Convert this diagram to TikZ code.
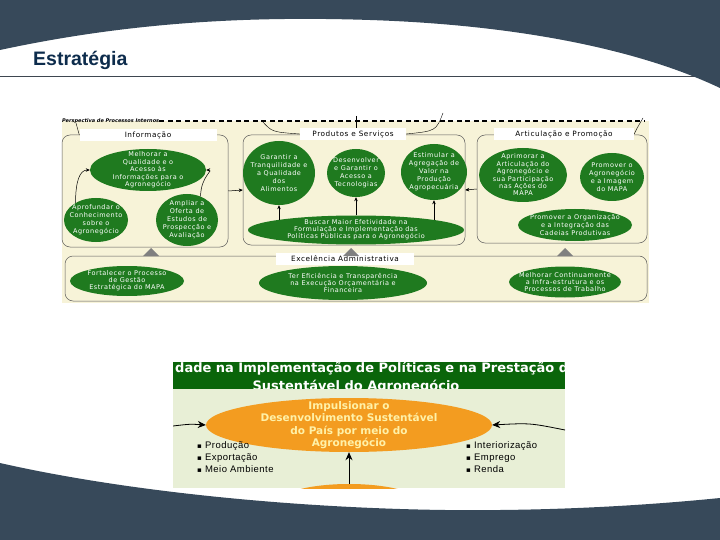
\documentclass[tikz,border=0pt]{standalone}
\usepackage{fontspec}
\setmainfont{DejaVu Sans}
\newfontfamily\headfont{Liberation Sans}
\newfontfamily\dgfont[LetterSpace=8]{DejaVu Sans}
\newfontfamily\listfont[LetterSpace=5]{Liberation Sans}
\newcommand{\bul}{{\fontspec{DejaVu Sans}\fontsize{7}{7}\selectfont ▪}}
\usetikzlibrary{arrows.meta,positioning,calc,shapes.geometric}
\definecolor{slate}{HTML}{37495A}
\definecolor{navy}{HTML}{0D2C4C}
\definecolor{rulecol}{HTML}{3E4650}
\definecolor{leaf}{HTML}{1F7A1F}
\definecolor{cream}{HTML}{F7F3D8}
\definecolor{band}{HTML}{0A650A}
\definecolor{pale}{HTML}{E8EFD6}
\definecolor{tang}{HTML}{F39C20}
\definecolor{butter}{HTML}{FFF1A8}

\begin{document}
\begin{tikzpicture}[x=1pt,y=-1pt,
  goal/.style={ellipse,fill=leaf,inner sep=0pt},
  goaltxt/.style={text=white,inner sep=0pt,align=center,font={\dgfont\fontsize{6.5}{8}\selectfont}},
  tight/.style={font={\dgfont\fontsize{6.5}{7.2}\selectfont}},
  grp/.style={draw=black!65,line width=0.5pt,rounded corners=8pt,inner sep=0pt},
  grplbl/.style={fill=white,inner sep=0pt,minimum height=12pt,font={\dgfont\fontsize{7.3}{8}\selectfont}},
  garrow/.style={-{Stealth[length=4pt,width=3.5pt]},line width=0.5pt},
  oarrow/.style={-{Stealth[length=8pt,width=7pt]},line width=0.8pt},
  listtxt/.style={inner sep=0pt,align=left,font={\listfont\fontsize{9.5}{12}\selectfont}}]
\useasboundingbox (0,0) rectangle (720,540);
\fill[white] (0,0) rectangle (720,540);

% slide frame
\fill[slate] (0,0) -- (720,0) -- (720,88) .. controls (640,50) and (520,25) .. (370,20)
  .. controls (250,16) and (130,22) .. (0,50) -- cycle;
\fill[slate] (0,540) -- (0,463) .. controls (150,497) and (350,512) .. (500,510)
  .. controls (600,509) and (680,502) .. (720,498) -- (720,540) -- cycle;
\node[anchor=base west,inner sep=0pt,text=navy,font={\headfont\bfseries\fontsize{19.5}{20}\selectfont}] (ttl) at (33,66) {Estratégia};
\draw[rulecol,line width=1pt] (0,77) -- (694,77);

% upper map
\fill[cream] (62,121) rectangle (649,303);
\node[anchor=west,inner sep=0pt,font={\bfseries\itshape\fontsize{5}{5}\selectfont}] (pers) at (62,121) {Perspectiva de Processos Internos};
\draw[line width=1.3pt,dash pattern=on 5pt off 3.5pt] (pers.east) -- (645,121);

\node[grp,minimum width=166,minimum height=112] (inf) at (145,191) {};
\node[grp,minimum width=222,minimum height=110] (prod) at (354,190) {};
\node[grp,minimum width=170,minimum height=108] (art) at (562,189) {};
\node[grp,minimum width=582,minimum height=45] (adm) at (356,278.5) {};

\node[grplbl,minimum width=137] (linf) at (148,135) {Informação};
\node[grplbl,minimum width=106] (lprod) at (353,134) {Produtos e Serviços};
\node[grplbl,minimum width=140] (lart) at (564,134) {Articulação e Promoção};
\node[grplbl,minimum width=138] (ladm) at (345,259) {Excelência Administrativa};

% braces from the dashed line
\draw[line width=0.4pt] (76,123) -- (linf.west);
\draw[line width=0.4pt] (262,121) .. controls (272,132) .. (lprod.west);
\draw[line width=0.4pt] (443,113) .. controls (436,131) .. (lprod.east);
\draw[line width=0.4pt] (356,116) -- (356,128);
\draw[line width=0.4pt] (643,118) .. controls (636,130) .. (lart.east);

% Informacao
\node[goal,minimum width=116,minimum height=42] (m1) at (148,170) {};
\node[goaltxt,font={\dgfont\fontsize{6.5}{7.6}\selectfont}] (m1t) at (m1) {Melhorar a\\Qualidade e o\\Acesso às\\Informações para o\\Agronegócio};
\node[goal,minimum width=64,minimum height=44] (a1) at (96,220) {};
\node[goaltxt] (a1t) at (a1) {Aprofundar o\\Conhecimento\\sobre o\\Agronegócio};
\node[goal,minimum width=62,minimum height=52] (a2) at (187,220) {};
\node[goaltxt] (a2t) at (a2) {Ampliar a\\Oferta de\\Estudos de\\Prospecção e\\Avaliação};
\draw[garrow] (a1.140) .. controls +(0,-22) and +(-10,0) .. (m1.west);
\draw[garrow] (a2.60) .. controls +(0,-20) and +(8,0) .. (m1.east);

% Produtos e Servicos
\node[goal,minimum width=72,minimum height=64] (g1) at (279,173) {};
\node[goaltxt] (g1t) at (g1) {Garantir a\\Tranquilidade e\\a Qualidade\\dos\\Alimentos};
\node[goal,minimum width=58,minimum height=48] (g2) at (356,173) {};
\node[goaltxt] (g2t) at (g2) {Desenvolver\\e Garantir o\\Acesso a\\Tecnologias};
\node[goal,minimum width=66,minimum height=56] (g3) at (434,172) {};
\node[goaltxt] (g3t) at (g3) {Estimular a\\Agregação de\\Valor na\\Produção\\Agropecuária};
\node[goal,minimum width=216,minimum height=29] (g4) at (356,230) {};
\node[goaltxt,tight] (g4t) at (g4) {Buscar Maior Efetividade na\\Formulação e Implementação das\\Políticas Públicas para o Agronegócio};
\draw[garrow] ($(g4.north -| g1.south)+(0,5)$) -- (g1.south);
\draw[garrow] (g4.north) -- (g2.south);
\draw[garrow] ($(g4.north -| g3.south)+(0,5)$) -- (g3.south);

% Articulacao e Promocao
\node[goal,minimum width=88,minimum height=54] (p1) at (523,175) {};
\node[goaltxt,font={\dgfont\fontsize{6.5}{7.4}\selectfont}] (p1t) at (p1) {Aprimorar a\\Articulação do\\Agronegócio e\\sua Participação\\nas Ações do\\MAPA};
\node[goal,minimum width=64,minimum height=48] (p2) at (612,177) {};
\node[goaltxt] (p2t) at (p2) {Promover o\\Agronegócio\\e a Imagem\\do MAPA};
\node[goal,minimum width=114,minimum height=32] (p3) at (575,225) {};
\node[goaltxt] (p3t) at (p3) {Promover a Organização\\e a Integração das\\Cadeias Produtivas};

\draw[garrow] (inf.east) -- (prod.west);
\draw[garrow] (art.west) -- (prod.east);

% Excelencia Administrativa
\fill[gray] (143,256) -- (151,248) -- (159,256) -- cycle;
\fill[gray] (343,256) -- (351,248) -- (359,256) -- cycle;
\fill[gray] (557,256) -- (565,248) -- (573,256) -- cycle;
\node[goal,minimum width=114,minimum height=30] (e1) at (127,281) {};
\node[goaltxt,tight] (e1t) at (e1) {Fortalecer o Processo\\de Gestão\\Estratégica do MAPA};
\node[goal,minimum width=168,minimum height=34] (e2) at (343,283) {};
\node[goaltxt,tight] (e2t) at (e2) {Ter Eficiência e Transparência\\na Execução Orçamentária e\\Financeira};
\node[goal,minimum width=112,minimum height=31] (e3) at (565,282) {};
\node[goaltxt,tight] (e3t) at (e3) {Melhorar Continuamente\\a Infra-estrutura e os\\Processos de Trabalho};

% lower map
\begin{scope}
\clip (173,362) rectangle (565,488);
\fill[band] (173,362) rectangle (565,390);
\node[anchor=base west,inner sep=0pt,text=white,font={\bfseries\fontsize{13}{13}\selectfont}] (mis1) at (175,372) {dade na Implementação de Políticas e na Prestação d};
\node[anchor=base,inner sep=0pt,text=white,font={\bfseries\fontsize{13}{13}\selectfont}] (mis2) at (356,390) {Sustentável do Agronegócio};
\fill[pale] (173,389) rectangle (565,488);
\node[ellipse,fill=tang,inner sep=0pt,minimum width=286,minimum height=54] (imp) at (349,425) {};
\node[inner sep=0pt,align=center,text=butter,font={\bfseries\fontsize{10.5}{12.3}\selectfont}] (impt) at (imp) {Impulsionar o\\Desenvolvimento Sustentável\\do País por meio do\\Agronegócio};
\node[ellipse,fill=tang,inner sep=0pt,minimum width=150,minimum height=42] (bot) at (349,505) {};
\coordinate (lin) at (173,426);
\coordinate (rin) at (565,430);
\draw[oarrow] (lin) .. controls (190,424) .. (imp.west);
\draw[oarrow] (rin) .. controls (530,423) .. (imp.east);
\draw[oarrow] (bot.north) -- (imp.south);
\node[listtxt,anchor=north west] (lst1) at (197,441) {\bul\ Produção\\\bul\ Exportação\\\bul\ Meio Ambiente};
\node[listtxt,anchor=north west] (lst2) at (466,441) {\bul\ Interiorização\\\bul\ Emprego\\\bul\ Renda};
\end{scope}
\end{tikzpicture}
\end{document}
